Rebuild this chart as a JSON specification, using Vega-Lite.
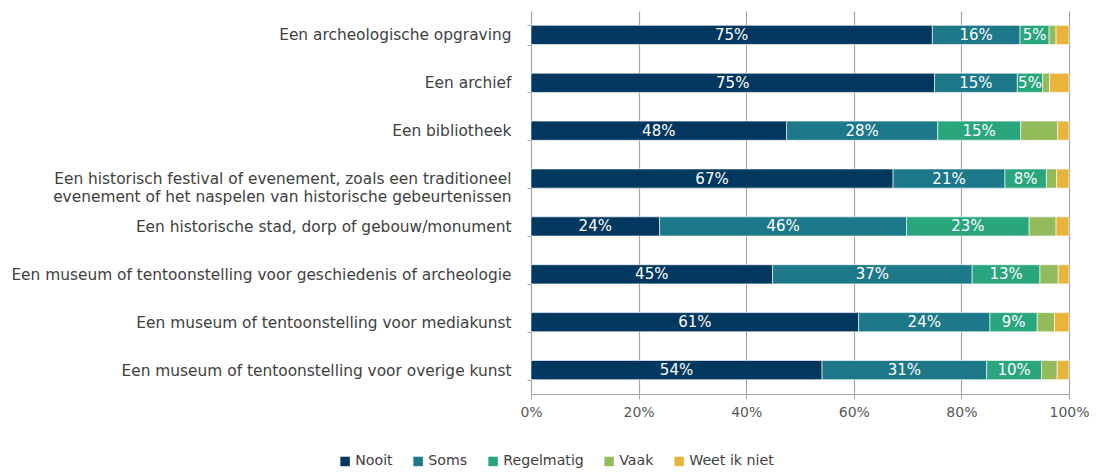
{
  "$schema": "https://vega.github.io/schema/vega-lite/v6.json",
  "width": 538,
  "height": 383,
  "autosize": "none",
  "padding": {"left": 531, "top": 11, "right": 29, "bottom": 78},
  "config": {
    "view": {"stroke": null},
    "font": "DejaVu Sans",
    "text": {"font": "DejaVu Sans"}
  },
  "data": {
    "values": [
      {"item": "Een archeologische opgraving", "cat": "Nooit", "ord": 1, "v": 0.746},
      {"item": "Een archeologische opgraving", "cat": "Soms", "ord": 2, "v": 0.163},
      {"item": "Een archeologische opgraving", "cat": "Regelmatig", "ord": 3, "v": 0.054},
      {"item": "Een archeologische opgraving", "cat": "Vaak", "ord": 4, "v": 0.013},
      {"item": "Een archeologische opgraving", "cat": "Weet ik niet", "ord": 5, "v": 0.024},
      {"item": "Een archief", "cat": "Nooit", "ord": 1, "v": 0.750},
      {"item": "Een archief", "cat": "Soms", "ord": 2, "v": 0.154},
      {"item": "Een archief", "cat": "Regelmatig", "ord": 3, "v": 0.047},
      {"item": "Een archief", "cat": "Vaak", "ord": 4, "v": 0.013},
      {"item": "Een archief", "cat": "Weet ik niet", "ord": 5, "v": 0.036},
      {"item": "Een bibliotheek", "cat": "Nooit", "ord": 1, "v": 0.475},
      {"item": "Een bibliotheek", "cat": "Soms", "ord": 2, "v": 0.281},
      {"item": "Een bibliotheek", "cat": "Regelmatig", "ord": 3, "v": 0.154},
      {"item": "Een bibliotheek", "cat": "Vaak", "ord": 4, "v": 0.069},
      {"item": "Een bibliotheek", "cat": "Weet ik niet", "ord": 5, "v": 0.021},
      {"item": "Een historisch festival of evenement, zoals een traditioneel evenement of het naspelen van historische gebeurtenissen", "cat": "Nooit", "ord": 1, "v": 0.673},
      {"item": "Een historisch festival of evenement, zoals een traditioneel evenement of het naspelen van historische gebeurtenissen", "cat": "Soms", "ord": 2, "v": 0.208},
      {"item": "Een historisch festival of evenement, zoals een traditioneel evenement of het naspelen van historische gebeurtenissen", "cat": "Regelmatig", "ord": 3, "v": 0.077},
      {"item": "Een historisch festival of evenement, zoals een traditioneel evenement of het naspelen van historische gebeurtenissen", "cat": "Vaak", "ord": 4, "v": 0.019},
      {"item": "Een historisch festival of evenement, zoals een traditioneel evenement of het naspelen van historische gebeurtenissen", "cat": "Weet ik niet", "ord": 5, "v": 0.023},
      {"item": "Een historische stad, dorp of gebouw/monument", "cat": "Nooit", "ord": 1, "v": 0.239},
      {"item": "Een historische stad, dorp of gebouw/monument", "cat": "Soms", "ord": 2, "v": 0.459},
      {"item": "Een historische stad, dorp of gebouw/monument", "cat": "Regelmatig", "ord": 3, "v": 0.228},
      {"item": "Een historische stad, dorp of gebouw/monument", "cat": "Vaak", "ord": 4, "v": 0.050},
      {"item": "Een historische stad, dorp of gebouw/monument", "cat": "Weet ik niet", "ord": 5, "v": 0.024},
      {"item": "Een museum of tentoonstelling voor geschiedenis of archeologie", "cat": "Nooit", "ord": 1, "v": 0.449},
      {"item": "Een museum of tentoonstelling voor geschiedenis of archeologie", "cat": "Soms", "ord": 2, "v": 0.371},
      {"item": "Een museum of tentoonstelling voor geschiedenis of archeologie", "cat": "Regelmatig", "ord": 3, "v": 0.126},
      {"item": "Een museum of tentoonstelling voor geschiedenis of archeologie", "cat": "Vaak", "ord": 4, "v": 0.034},
      {"item": "Een museum of tentoonstelling voor geschiedenis of archeologie", "cat": "Weet ik niet", "ord": 5, "v": 0.020},
      {"item": "Een museum of tentoonstelling voor mediakunst", "cat": "Nooit", "ord": 1, "v": 0.609},
      {"item": "Een museum of tentoonstelling voor mediakunst", "cat": "Soms", "ord": 2, "v": 0.244},
      {"item": "Een museum of tentoonstelling voor mediakunst", "cat": "Regelmatig", "ord": 3, "v": 0.088},
      {"item": "Een museum of tentoonstelling voor mediakunst", "cat": "Vaak", "ord": 4, "v": 0.032},
      {"item": "Een museum of tentoonstelling voor mediakunst", "cat": "Weet ik niet", "ord": 5, "v": 0.027},
      {"item": "Een museum of tentoonstelling voor overige kunst", "cat": "Nooit", "ord": 1, "v": 0.541},
      {"item": "Een museum of tentoonstelling voor overige kunst", "cat": "Soms", "ord": 2, "v": 0.306},
      {"item": "Een museum of tentoonstelling voor overige kunst", "cat": "Regelmatig", "ord": 3, "v": 0.102},
      {"item": "Een museum of tentoonstelling voor overige kunst", "cat": "Vaak", "ord": 4, "v": 0.029},
      {"item": "Een museum of tentoonstelling voor overige kunst", "cat": "Weet ik niet", "ord": 5, "v": 0.022}
    ]
  },
  "encoding": {
    "y": {
      "field": "item",
      "type": "nominal",
      "sort": null,
      "title": null,
      "scale": {"paddingInner": 0.6, "paddingOuter": 0.3},
      "axis": {
        "tickBand": "extent",
        "tickSize": 4,
        "tickColor": "#a6a6a6",
        "domainColor": "#a6a6a6",
        "labelColor": "#404040",
        "labelFontSize": 15.4,
        "labelPadding": 16,
        "labelLimit": 700,
        "labelLineHeight": 18,
        "labelExpr": "datum.value == 'Een historisch festival of evenement, zoals een traditioneel evenement of het naspelen van historische gebeurtenissen' ? ['Een historisch festival of evenement, zoals een traditioneel', 'evenement of het naspelen van historische gebeurtenissen'] : datum.value"
      }
    }
  },
  "layer": [
    {
      "mark": {"type": "bar", "stroke": "white", "strokeWidth": 0.6},
      "encoding": {
        "x": {
          "field": "v",
          "type": "quantitative",
          "stack": "zero",
          "title": null,
          "scale": {"domain": [0, 1]},
          "axis": {
            "format": ".0%",
            "values": [0, 0.2, 0.4, 0.6, 0.8, 1],
            "grid": true,
            "gridColor": "#a6a6a6",
            "gridWidth": 1.2,
            "domainColor": "#a6a6a6",
            "tickColor": "#a6a6a6",
            "tickSize": 5,
            "labelColor": "#595959",
            "labelFontSize": 14,
            "labelPadding": 6,
            "labelFlush": false
          }
        },
        "color": {
          "field": "cat",
          "type": "nominal",
          "scale": {
            "domain": ["Nooit", "Soms", "Regelmatig", "Vaak", "Weet ik niet"],
            "range": ["#02375f", "#1d788a", "#2aa67f", "#93bb5b", "#e9b43b"]
          },
          "legend": {
            "title": null,
            "orient": "none",
            "direction": "horizontal",
            "legendX": -193,
            "legendY": 443,
            "symbolType": "square",
            "symbolSize": 90,
            "symbolStrokeWidth": 0,
            "labelFontSize": 14.2,
            "labelColor": "#404040",
            "labelOffset": 3,
            "columnPadding": 18
          }
        },
        "order": {"field": "ord", "type": "quantitative"}
      }
    },
    {
      "transform": [{"filter": "datum.ord <= 3"}],
      "mark": {"type": "text", "color": "white", "fontSize": 15, "baseline": "middle", "align": "center"},
      "encoding": {
        "x": {"field": "v", "type": "quantitative", "stack": "zero", "bandPosition": 0.5},
        "text": {"field": "v", "type": "quantitative", "format": ".0%"},
        "order": {"field": "ord", "type": "quantitative"}
      }
    }
  ]
}
